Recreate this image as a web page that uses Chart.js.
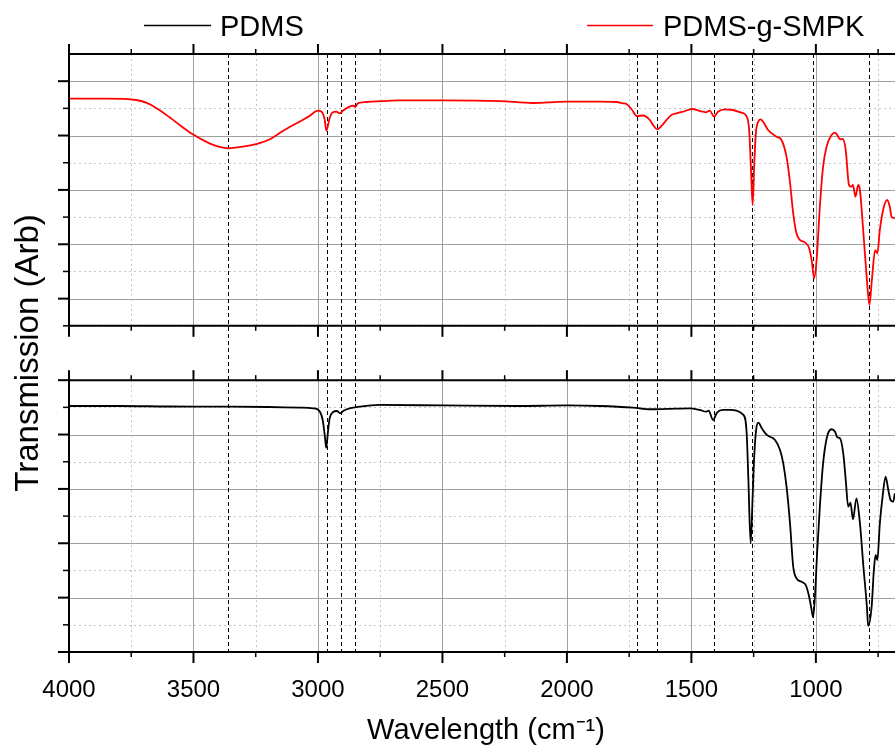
<!DOCTYPE html>
<html>
<head>
<meta charset="utf-8">
<script src="https://cdn.jsdelivr.net/npm/chart.js@4/dist/chart.umd.min.js"></script>
<style>
html,body{margin:0;padding:0;overflow:hidden;background:#fff;}
#wrap{width:905px;height:748px;}
</style>
</head>
<body>
<div id="wrap"><canvas id="c" width="905" height="748"></canvas></div>
<script>
// ---------- data ----------
const seriesNames = ['PDMS', 'PDMS-g-SMPK'];
const xMajorTicks = [4000, 3500, 3000, 2500, 2000, 1500, 1000];
const xMinorTicks = [3750, 3250, 2750, 2250, 1750, 1250, 750];
const peakLines = [3360, 2965, 2908, 2853, 1718, 1637, 1408, 1255, 1010, 787];

// PDMS (bottom panel), transmission in arbitrary units (panel spans 0..5)
const pdmsWave = [4000,3800,3600,3400,3200,3073,3018,2992,2981,2972,2967,2959,2953,2940,2924,2910,2897,2873,2833,2753,2500,2200,2000,1868,1734,1667,1600,1506,1466,1441,1431,1413,1397,1373,1346,1291,1278,1271,1262,1254,1249,1240,1231,1217,1197,1164,1144,1131,1118,1104,1091,1078,1058,1041,1027,1017,1011,1003,995,984,971,955,937,923,914,903,890,880,870,861,851,837,823,809,795,790,776,767,760,753,743,732,720,709,700,689,683];
const pdmsT = [4.525,4.525,4.516,4.513,4.507,4.494,4.483,4.421,4.268,3.961,3.753,4.084,4.299,4.410,4.433,4.391,4.439,4.483,4.513,4.544,4.535,4.525,4.535,4.525,4.494,4.465,4.471,4.483,4.452,4.421,4.439,4.268,4.403,4.452,4.452,4.360,4.029,3.164,2.000,2.857,3.477,4.084,4.218,4.115,3.992,3.900,3.716,3.471,3.050,2.373,1.569,1.356,1.293,1.233,1.017,0.773,0.638,1.080,1.816,2.673,3.471,3.961,4.097,4.053,3.950,3.931,3.655,3.164,2.673,2.747,2.441,2.827,2.368,1.569,0.833,0.478,0.833,1.508,1.784,1.692,2.368,2.857,3.225,2.980,2.796,2.765,2.919];

// PDMS-g-SMPK (top panel), transmission in arbitrary units (panel spans 0..5)
const smpkWave = [4000,3850,3730,3690,3650,3596,3550,3503,3436,3400,3361,3302,3248,3195,3141,3114,3074,3034,3000,2987,2974,2966,2953,2940,2926,2913,2900,2873,2857,2850,2840,2806,2739,2672,2500,2270,2137,2002,1868,1801,1775,1761,1741,1719,1694,1667,1654,1638,1620,1600,1580,1560,1533,1497,1466,1442,1426,1409,1393,1366,1333,1299,1279,1268,1261,1254,1248,1241,1232,1222,1212,1192,1158,1138,1118,1105,1091,1078,1064,1044,1027,1017,1007,997,984,971,957,937,923,914,903,892,880,867,857,851,841,830,823,809,795,785,775,762,753,743,730,714,703,696,683];
const smpkT = [4.178,4.178,4.154,4.104,4.007,3.836,3.676,3.523,3.357,3.298,3.265,3.295,3.344,3.427,3.583,3.657,3.755,3.859,3.957,3.942,3.817,3.589,3.823,3.928,3.939,3.909,3.957,4.031,4.049,4.025,4.093,4.117,4.135,4.148,4.148,4.135,4.099,4.123,4.123,4.117,4.093,4.080,3.988,3.859,3.869,3.786,3.694,3.615,3.676,3.786,3.878,3.909,3.939,3.988,3.951,3.928,3.957,3.847,3.939,3.983,3.970,3.920,3.859,3.602,2.927,2.222,2.927,3.541,3.755,3.799,3.755,3.602,3.479,3.418,3.111,2.682,2.070,1.702,1.579,1.536,1.426,1.210,0.874,1.210,2.191,2.927,3.295,3.510,3.552,3.510,3.431,3.436,3.234,2.590,2.559,2.590,2.375,2.590,2.498,1.702,0.843,0.383,0.843,1.394,1.334,1.763,2.131,2.314,2.191,2.007,1.978];

// panel layout (stacked on one y axis): offset of each panel's 0 and its grid values
const panels = [
  { offset: 0, major: [0, 1, 2, 3, 4, 5], minor: [0.5, 1.5, 2.5, 3.5, 4.5] },
  { offset: 6, major: [0.5, 1.5, 2.5, 3.5, 4.5], minor: [0, 1, 2, 3, 4] }
];
const PANEL_SPAN = 5;

// ---------- chart ----------
Chart.defaults.font.family = "'Liberation Sans', Arial, Helvetica, sans-serif";
Chart.defaults.color = '#000';

function seg(ctx, x0, y0, x1, y1) { ctx.beginPath(); ctx.moveTo(x0, y0); ctx.lineTo(x1, y1); ctx.stroke(); }

const panelPlugin = {
  id: 'panels',
  beforeDatasetsDraw(chart) {
    const { ctx, chartArea: ca, scales: { x, y } } = chart;
    ctx.save();
    ctx.beginPath(); ctx.rect(ca.left, ca.top - 1, ca.right - ca.left, ca.bottom - ca.top + 2); ctx.clip();
    for (const p of panels) {
      const yt = y.getPixelForValue(p.offset + PANEL_SPAN), yb = y.getPixelForValue(p.offset);
      ctx.lineWidth = 1;
      ctx.strokeStyle = '#c6c6c6'; ctx.setLineDash([2, 3]);
      for (const w of xMinorTicks) { const px = Math.round(x.getPixelForValue(w)) + 0.5; seg(ctx, px, yt, px, yb); }
      for (const v of p.minor) { const py = Math.round(y.getPixelForValue(p.offset + v)) + 0.5; seg(ctx, ca.left, py, ca.right, py); }
      ctx.setLineDash([]); ctx.strokeStyle = '#a0a0a0';
      for (const w of xMajorTicks) { const px = Math.round(x.getPixelForValue(w)) + 0.5; seg(ctx, px, yt, px, yb); }
      for (const v of p.major) { const py = Math.round(y.getPixelForValue(p.offset + v)) + 0.5; seg(ctx, ca.left, py, ca.right, py); }
    }
    // dashed reference lines across both panels
    const top = y.getPixelForValue(panels[1].offset + PANEL_SPAN), bot = y.getPixelForValue(panels[0].offset);
    ctx.strokeStyle = '#000'; ctx.lineWidth = 1; ctx.setLineDash([4, 3]);
    for (const w of peakLines) { const px = Math.round(x.getPixelForValue(w)) + 0.5; seg(ctx, px, top, px, bot); }
    ctx.restore();
  },
  afterDatasetsDraw(chart) {
    const { ctx, chartArea: ca, scales: { x, y } } = chart;
    ctx.save();
    ctx.strokeStyle = '#000'; ctx.setLineDash([]);
    for (const p of panels) {
      const yt = y.getPixelForValue(p.offset + PANEL_SPAN), yb = y.getPixelForValue(p.offset);
      // x tick marks on top (outward up) and bottom (outward down) of each panel
      ctx.lineWidth = 2;
      for (const w of xMajorTicks) { const px = x.getPixelForValue(w); seg(ctx, px, yt, px, yt - 10); seg(ctx, px, yb, px, yb + 11); }
      ctx.lineWidth = 1.5;
      for (const w of xMinorTicks) { const px = x.getPixelForValue(w); seg(ctx, px, yt, px, yt - 5); seg(ctx, px, yb, px, yb + 5); }
      // y tick marks on the left
      ctx.lineWidth = 2;
      for (const v of p.major) { const py = y.getPixelForValue(p.offset + v); seg(ctx, ca.left, py, ca.left - 11, py); }
      ctx.lineWidth = 1.5;
      for (const v of p.minor) { const py = y.getPixelForValue(p.offset + v); seg(ctx, ca.left, py, ca.left - 6, py); }
      // frame
      ctx.lineWidth = 2;
      seg(ctx, ca.left - 1, yt, ca.right, yt);
      seg(ctx, ca.left - 1, yb, ca.right, yb);
      seg(ctx, ca.left, yt, ca.left, yb);
    }
    ctx.restore();
  }
};

const legendPlugin = {
  id: 'legendRow',
  afterDraw(chart) {
    const ctx = chart.ctx;
    const slots = [{ x0: 144, x1: 211, tx: 220 }, { x0: 587, x1: 653, tx: 663 }];
    ctx.save();
    chart.data.datasets.forEach((ds, i) => {
      const s = slots[i];
      ctx.strokeStyle = ds.borderColor; ctx.lineWidth = 1.6;
      seg(ctx, s.x0, 25.5, s.x1, 25.5);
      ctx.fillStyle = '#000';
      ctx.font = "29px 'Liberation Sans', Arial, sans-serif";
      ctx.textBaseline = 'alphabetic'; ctx.textAlign = 'left';
      ctx.fillText(ds.label, s.tx, 36);
    });
    ctx.restore();
  }
};

new Chart(document.getElementById('c'), {
  type: 'line',
  data: {
    datasets: [
      {
        label: seriesNames[0],
        data: pdmsWave.map((w, i) => ({ x: w, y: pdmsT[i] + panels[0].offset })),
        borderColor: '#000000', borderWidth: 1.8, pointRadius: 0, fill: false,
        cubicInterpolationMode: 'monotone'
      },
      {
        label: seriesNames[1],
        data: smpkWave.map((w, i) => ({ x: w, y: smpkT[i] + panels[1].offset })),
        borderColor: '#ff0000', borderWidth: 1.8, pointRadius: 0, fill: false,
        cubicInterpolationMode: 'monotone'
      }
    ]
  },
  options: {
    responsive: false,
    animation: false,
    devicePixelRatio: 1,
    layout: { padding: { top: 54, right: 2, left: 0, bottom: 0 } },
    plugins: { legend: { display: false }, tooltip: { enabled: false } },
    scales: {
      x: {
        type: 'linear', reverse: true, min: 650, max: 4000,
        afterBuildTicks(s) { s.ticks = xMajorTicks.map(v => ({ value: v })); },
        ticks: { font: { size: 24 }, color: '#000', padding: 16, maxRotation: 0, autoSkip: false, callback: v => String(v) },
        grid: { display: false }, border: { display: false },
        title: { display: true, text: 'Wavelength (cm⁻¹)', font: { size: 29 }, color: '#000', padding: { top: 0, bottom: 0 } },
        afterFit(s) { s.height = 96; }
      },
      y: {
        type: 'linear', min: 0, max: 11,
        ticks: { display: false }, grid: { display: false }, border: { display: false },
        title: { display: true, text: 'Transmission (Arb)', font: { size: 33, lineHeight: 1 }, color: '#000', padding: { top: 12, bottom: 0 } },
        afterFit(s) { s.width = 69; }
      }
    }
  },
  plugins: [panelPlugin, legendPlugin]
});
</script>
</body>
</html>
